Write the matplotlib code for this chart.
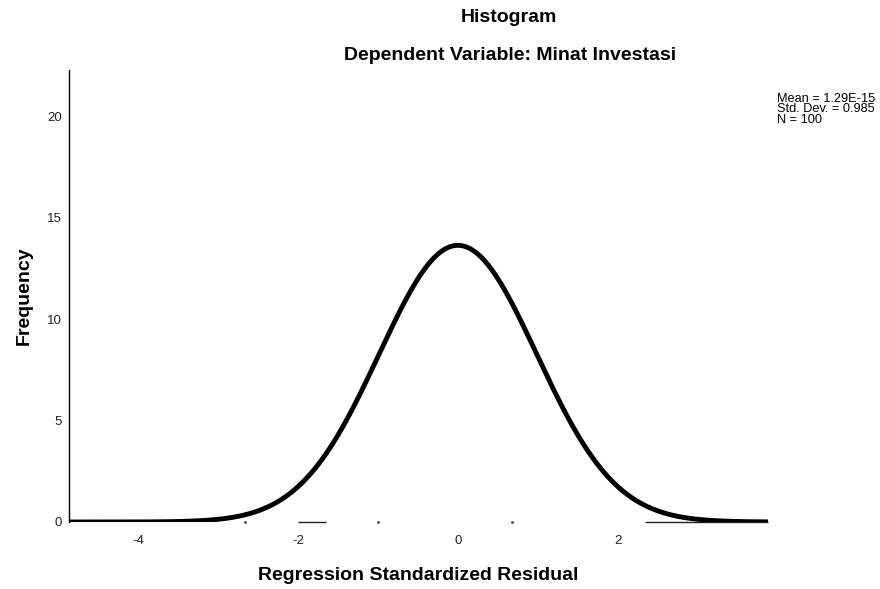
import numpy as np
import matplotlib
matplotlib.use("Agg")
import matplotlib.pyplot as plt

plt.rcParams["font.family"] = ["Liberation Sans", "DejaVu Sans"]

# summary statistics shown in the chart
MEAN = 1.29e-15
STD = 0.985
N = 100
BIN_WIDTH = 0.337  # estimated from the curve peak (~13.6)

# zero-height bar remnants drawn on the baseline
seg_starts = [-2.0, 2.34]
seg_ends = [-1.65, 3.875]
dot_pos = [-2.66, -1.0, 0.67]

x_ticks = [-4, -2, 0, 2]
y_ticks = [0, 5, 10, 15, 20]
X_LIM = (-4.86, 3.875)
Y_LIM = (0, 22.3)

fig = plt.figure(figsize=(8.8, 5.89), dpi=100)
ax = fig.add_axes([69 / 880, 1 - 522 / 589, 699 / 880, 452 / 589])

xs = np.linspace(X_LIM[0], X_LIM[1], 800)
ys = N * BIN_WIDTH / (STD * np.sqrt(2 * np.pi)) * np.exp(-0.5 * ((xs - MEAN) / STD) ** 2)

ax.hlines([0] * len(seg_starts), seg_starts, seg_ends, color="#222222", linewidth=1.0,
          zorder=2, clip_on=False)
ax.plot(dot_pos, [0] * len(dot_pos), linestyle="none", marker="s", markersize=1.0,
        color="#555555", zorder=2, clip_on=False)
ax.plot(xs, ys, color="black", linewidth=3.5, solid_capstyle="butt", zorder=3)

ax.set_xlim(*X_LIM)
ax.set_ylim(*Y_LIM)
ax.set_xticks(x_ticks)
ax.set_yticks(y_ticks)
ax.set_xticklabels([str(t) for t in x_ticks])
ax.set_yticklabels([str(t) for t in y_ticks])
ax.tick_params(axis="both", length=0, labelsize=9.5, colors="#222222")
ax.tick_params(axis="x", pad=9)
ax.tick_params(axis="y", pad=5)

for side in ("top", "right", "bottom"):
    ax.spines[side].set_visible(False)
ax.spines["left"].set_linewidth(1.0)

fig.text(418 / 880, 1 - 575 / 589, "Regression Standardized Residual", ha="center",
         va="center", fontsize=14, fontweight="bold")
fig.text(24 / 880, 1 - 296 / 589, "Frequency", ha="center", va="center",
         rotation=90, fontsize=14, fontweight="bold")

fig.text(509 / 880, 1 - 17 / 589, "Histogram", ha="center", va="center",
         fontsize=14, fontweight="bold")
fig.text(510 / 880, 1 - 55 / 589, "Dependent Variable: Minat Investasi", ha="center",
         va="center", fontsize=14, fontweight="bold")

fig.text(777 / 880, 1 - 93 / 589,
         "Mean = 1.29E-15\nStd. Dev. = 0.985\nN = 100",
         ha="left", va="top", fontsize=9.2, linespacing=0.82)

fig.savefig("out.png", dpi=100, facecolor="white")
